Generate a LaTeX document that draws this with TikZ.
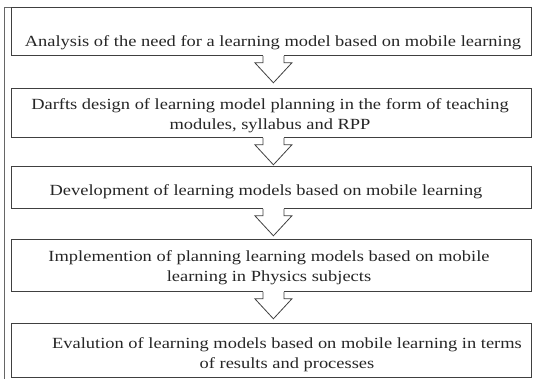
\documentclass[tikz,border=0pt]{standalone}
\usepackage{fontspec}
\setmainfont{Liberation Serif}[FakeStretch=1.19]
\usetikzlibrary{positioning}

\begin{document}
\begin{tikzpicture}[
        x=1pt, y=-1pt,
        stage/.style={rectangle, draw=black!75, line width=0.8pt, inner sep=0pt,
          anchor=north west, minimum width=520pt},
        txt/.style={align=center, inner sep=0pt, text=black!85,
          font=\fontsize{15.5}{20}\selectfont},
        flow/.style={draw=black!75, line width=0.8pt, fill=white, line join=miter},
      ]
      \useasboundingbox (0,0) rectangle (533,379);
      % frame on the left
      \draw[black!60, line width=0.8pt] (4,379) -- (4,7) -- (11,7);
      % the five stages
      \foreach \n/\y/\h in {1/7/48, 2/88/49, 3/166/42, 4/239/52, 5/323/54}{
        \node[stage, minimum height=\h pt] (b\n) at (11,\y) {};
      }
      \node[txt] (t1) at (273,42.5) {Analysis of the need for a learning model based on mobile learning};
      \node[txt] (t2) at (270,116) {Darfts design of learning model planning in the form of teaching\\modules, syllabus and RPP};
      \node[txt] (t3) at (266,191.5) {Development of learning models based on mobile learning};
      \node[txt] (t4) at (269,268) {Implemention of planning learning models based on mobile\\learning in Physics subjects};
      \node[txt] (t5) at (287,355) {Evalution of learning models based on mobile learning in terms\\of results and processes};
      % notched arrows between the stages
      \foreach \a/\b in {b1/b2, b2/b3, b3/b4, b4/b5}{
        \fill[white] ([xshift=-8.1pt, yshift=1pt]\a.south) rectangle ([xshift=12.1pt, yshift=-1pt]\a.south);
        \draw[flow] ([xshift=-8.5pt]\a.south) -- ++(0,7) -- ++(-8,0) -- ++(18.5,20)
          -- ++(18.5,-20) -- ++(-8,0) -- ++(0,-7);
      }
    \end{tikzpicture}
\end{document}
